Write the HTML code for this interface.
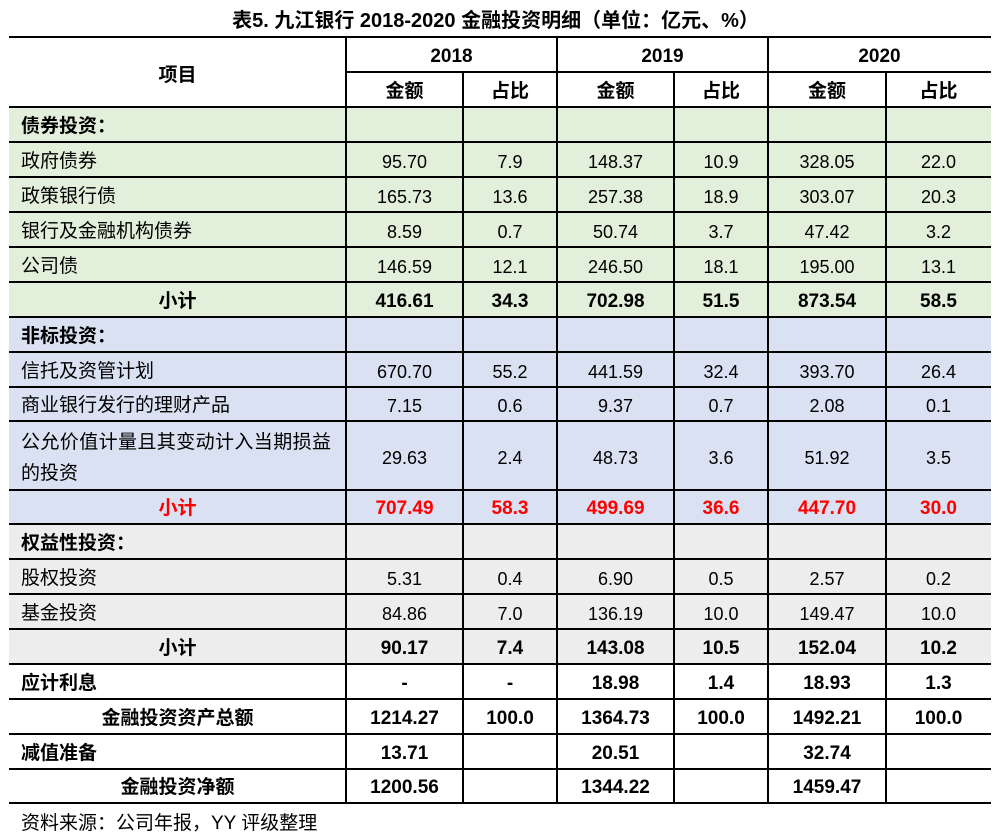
<!DOCTYPE html>
<html>
<head>
<meta charset="utf-8">
<style>
  html,body{margin:0;padding:0;}
  body{width:1006px;height:836px;background:#fff;position:relative;overflow:hidden;
       font-family:"Liberation Sans","Noto Sans CJK SC",sans-serif;color:#000;}
  .bg{position:absolute;left:9px;width:982px;}
  .h{position:absolute;height:2px;background:#000;}
  .v{position:absolute;width:2px;background:#000;}
  .title{position:absolute;left:0;top:7px;width:991px;text-align:center;font-weight:bold;font-size:20px;line-height:28px;white-space:nowrap;}
  table{position:absolute;left:9px;top:39px;width:982px;border-collapse:collapse;table-layout:fixed;border-spacing:0;}
  td{padding:0;font-size:19px;line-height:24px;text-align:center;vertical-align:middle;white-space:nowrap;overflow:visible;}
  td.l{text-align:left;padding-left:12px;}
  td.n{font-size:18px;}
  tr.b td{font-weight:bold;}
  tr.b td.n{font-size:19px;}
  tr.r td{color:#ff0000;}
  .foot{position:absolute;left:21px;top:810px;font-size:19px;line-height:28px;white-space:nowrap;}
</style>
</head>
<body>
<div class="title">表5. 九江银行 2018-2020 金融投资明细（单位：亿元、%）</div>

<!-- backgrounds -->
<div class="bg" style="top:107px;height:210px;background:#e2efda;"></div>
<div class="bg" style="top:317px;height:207px;background:#d9e1f2;"></div>
<div class="bg" style="top:524px;height:140px;background:#ededed;"></div>

<table>
  <colgroup>
    <col style="width:337px"><col style="width:117px"><col style="width:94px">
    <col style="width:117px"><col style="width:94px"><col style="width:118px"><col style="width:105px">
  </colgroup>
  <tr class="b" style="height:35px"><td rowspan="2" style="padding-top:4px">项目</td><td colspan="2" class="n">2018</td><td colspan="2" class="n">2019</td><td colspan="2" class="n">2020</td></tr>
  <tr class="b" style="height:35px"><td>金额</td><td>占比</td><td>金额</td><td>占比</td><td>金额</td><td>占比</td></tr>
  <tr class="b" style="height:35px"><td class="l">债券投资：</td><td></td><td></td><td></td><td></td><td></td><td></td></tr>
  <tr style="height:35px"><td class="l">政府债券</td><td class="n">95.70</td><td class="n">7.9</td><td class="n">148.37</td><td class="n">10.9</td><td class="n">328.05</td><td class="n">22.0</td></tr>
  <tr style="height:35px"><td class="l">政策银行债</td><td class="n">165.73</td><td class="n">13.6</td><td class="n">257.38</td><td class="n">18.9</td><td class="n">303.07</td><td class="n">20.3</td></tr>
  <tr style="height:35px"><td class="l">银行及金融机构债券</td><td class="n">8.59</td><td class="n">0.7</td><td class="n">50.74</td><td class="n">3.7</td><td class="n">47.42</td><td class="n">3.2</td></tr>
  <tr style="height:35px"><td class="l">公司债</td><td class="n">146.59</td><td class="n">12.1</td><td class="n">246.50</td><td class="n">18.1</td><td class="n">195.00</td><td class="n">13.1</td></tr>
  <tr class="b" style="height:35px"><td>小计</td><td class="n">416.61</td><td class="n">34.3</td><td class="n">702.98</td><td class="n">51.5</td><td class="n">873.54</td><td class="n">58.5</td></tr>
  <tr class="b" style="height:35px"><td class="l">非标投资：</td><td></td><td></td><td></td><td></td><td></td><td></td></tr>
  <tr style="height:35px"><td class="l">信托及资管计划</td><td class="n">670.70</td><td class="n">55.2</td><td class="n">441.59</td><td class="n">32.4</td><td class="n">393.70</td><td class="n">26.4</td></tr>
  <tr style="height:34px"><td class="l">商业银行发行的理财产品</td><td class="n">7.15</td><td class="n">0.6</td><td class="n">9.37</td><td class="n">0.7</td><td class="n">2.08</td><td class="n">0.1</td></tr>
  <tr style="height:69px"><td class="l" style="line-height:31px"><span style="letter-spacing:0.4px">公允价值计量且其变动计入当期损益</span><br>的投资</td><td class="n">29.63</td><td class="n">2.4</td><td class="n">48.73</td><td class="n">3.6</td><td class="n">51.92</td><td class="n">3.5</td></tr>
  <tr class="b r" style="height:34px"><td>小计</td><td class="n">707.49</td><td class="n">58.3</td><td class="n">499.69</td><td class="n">36.6</td><td class="n">447.70</td><td class="n">30.0</td></tr>
  <tr class="b" style="height:35px"><td class="l">权益性投资：</td><td></td><td></td><td></td><td></td><td></td><td></td></tr>
  <tr style="height:35px"><td class="l">股权投资</td><td class="n">5.31</td><td class="n">0.4</td><td class="n">6.90</td><td class="n">0.5</td><td class="n">2.57</td><td class="n">0.2</td></tr>
  <tr style="height:35px"><td class="l">基金投资</td><td class="n">84.86</td><td class="n">7.0</td><td class="n">136.19</td><td class="n">10.0</td><td class="n">149.47</td><td class="n">10.0</td></tr>
  <tr class="b" style="height:35px"><td>小计</td><td class="n">90.17</td><td class="n">7.4</td><td class="n">143.08</td><td class="n">10.5</td><td class="n">152.04</td><td class="n">10.2</td></tr>
  <tr class="b" style="height:35px"><td class="l">应计利息</td><td class="n">-</td><td class="n">-</td><td class="n">18.98</td><td class="n">1.4</td><td class="n">18.93</td><td class="n">1.3</td></tr>
  <tr class="b" style="height:35px"><td>金融投资资产总额</td><td class="n">1214.27</td><td class="n">100.0</td><td class="n">1364.73</td><td class="n">100.0</td><td class="n">1492.21</td><td class="n">100.0</td></tr>
  <tr class="b" style="height:35px"><td class="l">减值准备</td><td class="n">13.71</td><td></td><td class="n">20.51</td><td></td><td class="n">32.74</td><td></td></tr>
  <tr class="b" style="height:34px"><td>金融投资净额</td><td class="n">1200.56</td><td></td><td class="n">1344.22</td><td></td><td class="n">1459.47</td><td></td></tr>
</table>

<!-- horizontal lines -->
<div class="h" style="left:9px;width:982px;top:36px"></div>
<div class="h" style="left:346px;width:645px;top:71px"></div>
<div class="h" style="left:9px;width:982px;top:106px"></div>
<div class="h" style="left:9px;width:982px;top:141px"></div>
<div class="h" style="left:9px;width:982px;top:176px"></div>
<div class="h" style="left:9px;width:982px;top:211px"></div>
<div class="h" style="left:9px;width:982px;top:246px"></div>
<div class="h" style="left:9px;width:982px;top:281px"></div>
<div class="h" style="left:9px;width:982px;top:316px"></div>
<div class="h" style="left:9px;width:982px;top:351px"></div>
<div class="h" style="left:9px;width:982px;top:386px"></div>
<div class="h" style="left:9px;width:982px;top:420px"></div>
<div class="h" style="left:9px;width:982px;top:489px"></div>
<div class="h" style="left:9px;width:982px;top:523px"></div>
<div class="h" style="left:9px;width:982px;top:558px"></div>
<div class="h" style="left:9px;width:982px;top:593px"></div>
<div class="h" style="left:9px;width:982px;top:628px"></div>
<div class="h" style="left:9px;width:982px;top:663px"></div>
<div class="h" style="left:9px;width:982px;top:698px"></div>
<div class="h" style="left:9px;width:982px;top:733px"></div>
<div class="h" style="left:9px;width:982px;top:768px"></div>
<div class="h" style="left:9px;width:982px;top:802px"></div>

<!-- vertical lines -->
<div class="v" style="left:345px;top:36px;height:768px"></div>
<div class="v" style="left:556px;top:36px;height:768px"></div>
<div class="v" style="left:767px;top:36px;height:768px"></div>
<div class="v" style="left:462px;top:71px;height:733px"></div>
<div class="v" style="left:673px;top:71px;height:733px"></div>
<div class="v" style="left:885px;top:71px;height:733px"></div>

<div class="foot">资料来源：公司年报，YY 评级整理</div>
</body>
</html>
